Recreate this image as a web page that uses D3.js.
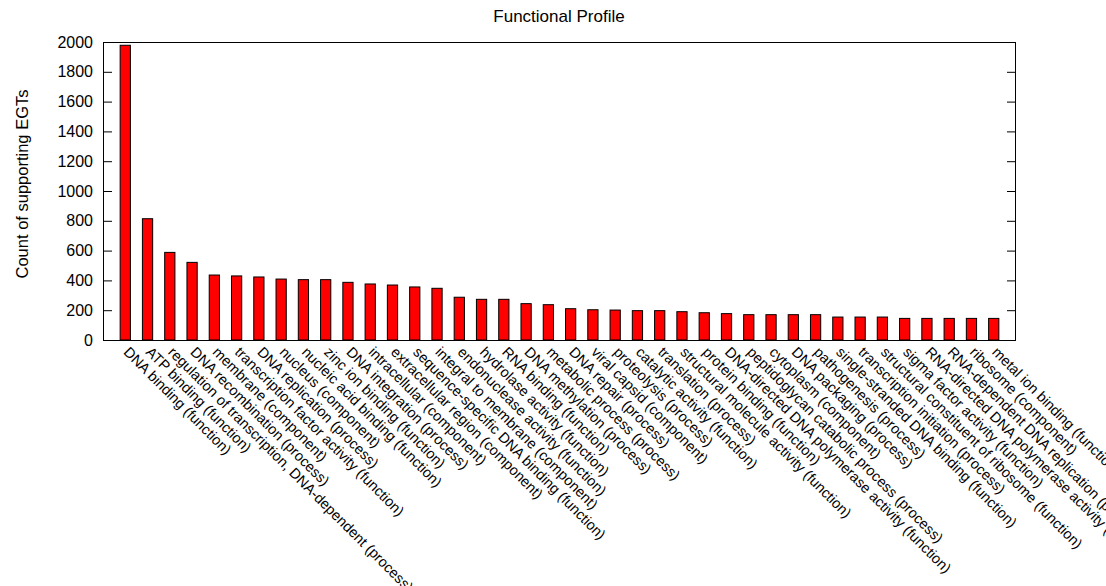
<!DOCTYPE html>
<html>
<head>
<meta charset="utf-8">
<script src="https://cdn.jsdelivr.net/npm/d3@7/dist/d3.min.js"></script>
<style>
  html, body { margin: 0; padding: 0; background: #ffffff; }
  svg { display: block; }
  text { font-family: "Liberation Sans", Arial, sans-serif; fill: #000; }
</style>
</head>
<body>
<svg id="chart" width="1106" height="586"></svg>
<script>
// GO term categories, ordered by number of supporting EGTs
const categories = [
  "DNA binding (function)",
  "ATP binding (function)",
  "regulation of transcription, DNA-dependent (process)",
  "DNA recombination (process)",
  "membrane (component)",
  "transcription factor activity (function)",
  "DNA replication (process)",
  "nucleus (component)",
  "nucleic acid binding (function)",
  "zinc ion binding (function)",
  "DNA integration (process)",
  "intracellular (component)",
  "extracellular region (component)",
  "sequence-specific DNA binding (function)",
  "integral to membrane (component)",
  "endonuclease activity (function)",
  "hydrolase activity (function)",
  "RNA binding (function)",
  "DNA methylation (process)",
  "metabolic process (process)",
  "DNA repair (process)",
  "viral capsid (component)",
  "proteolysis (process)",
  "catalytic activity (function)",
  "translation (process)",
  "structural molecule activity (function)",
  "protein binding (function)",
  "DNA-directed DNA polymerase activity (function)",
  "peptidoglycan catabolic process (process)",
  "cytoplasm (component)",
  "DNA packaging (process)",
  "pathogenesis (process)",
  "single-stranded DNA binding (function)",
  "transcription initiation (process)",
  "structural constituent of ribosome (function)",
  "sigma factor activity (function)",
  "RNA-directed DNA polymerase activity (function)",
  "RNA-dependent DNA replication (process)",
  "ribosome (component)",
  "metal ion binding (function)"
];

// Count of supporting EGTs per category
const counts = [
  1978, 814, 588, 521, 436, 430, 423, 409, 405, 405,
  387, 376, 369, 356, 347, 287, 273, 273, 244, 237,
  210, 203, 201, 197, 197, 190, 183, 177, 170, 170,
  170, 170, 154, 154, 154, 145, 145, 145, 145, 145
];

const yTicks = [0, 200, 400, 600, 800, 1000, 1200, 1400, 1600, 1800, 2000];

const titleText = "Functional Profile";
const yLabelText = "Count of supporting EGTs";

// Plot frame
const plotLeft = 103, plotRight = 1016, plotTop = 42, plotBottom = 340;
const svg = d3.select("#chart");

const x = d3.scaleLinear().domain([-1, categories.length]).range([plotLeft, plotRight]);
const y = d3.scaleLinear().domain([0, 2000]).range([plotBottom, plotTop]);
const barWidth = 0.46; // in category units

// Bars
svg.append("g")
  .selectAll("rect")
  .data(counts)
  .join("rect")
  .attr("x", (d, i) => x(i - barWidth / 2))
  .attr("y", d => y(d))
  .attr("width", x(barWidth) - x(0))
  .attr("height", d => y(0) - y(d))
  .attr("fill", "#ff0000")
  .attr("stroke", "#000")
  .attr("stroke-width", 1);

// Left axis with inward ticks
const yAxisLeft = svg.append("g")
  .attr("transform", `translate(${plotLeft},0)`)
  .call(d3.axisLeft(y).tickValues(yTicks).tickSize(-9).tickPadding(10).tickFormat(d3.format("d")));
yAxisLeft.select(".domain").remove();
yAxisLeft.selectAll("line").attr("stroke", "#000");
yAxisLeft.selectAll("text")
  .style("font-size", "16px")
  .attr("fill", "#000");

// Mirrored ticks on the right
const yAxisRight = svg.append("g")
  .attr("transform", `translate(${plotRight},0)`)
  .call(d3.axisRight(y).tickValues(yTicks).tickSize(-9).tickFormat(""));
yAxisRight.select(".domain").remove();
yAxisRight.selectAll("line").attr("stroke", "#000");

// Category labels, rotated 45 degrees below the plot
const xAxis = svg.append("g")
  .attr("transform", `translate(0,${plotBottom})`)
  .call(d3.axisBottom(x)
    .tickValues(d3.range(categories.length))
    .tickSize(0)
    .tickFormat(i => categories[i]));
xAxis.select(".domain").remove();
xAxis.selectAll(".tick text")
  .attr("x", 0)
  .attr("y", 0)
  .attr("dy", null)
  .attr("text-anchor", "start")
  .attr("transform", "translate(-3,13) rotate(45)")
  .style("font-size", "14.5px")
  .attr("fill", "#000");

// Frame
svg.append("rect")
  .attr("x", plotLeft + 0.5)
  .attr("y", plotTop + 0.5)
  .attr("width", plotRight - plotLeft - 1)
  .attr("height", plotBottom - plotTop)
  .attr("fill", "none")
  .attr("stroke", "#000")
  .attr("stroke-width", 1);

// Title
svg.append("text")
  .attr("x", 559)
  .attr("y", 22)
  .attr("text-anchor", "middle")
  .style("font-size", "17px")
  .text(titleText);

// Y axis label
svg.append("text")
  .attr("transform", "translate(28,184) rotate(-90)")
  .attr("text-anchor", "middle")
  .style("font-size", "16.5px")
  .text(yLabelText);
</script>
</body>
</html>
